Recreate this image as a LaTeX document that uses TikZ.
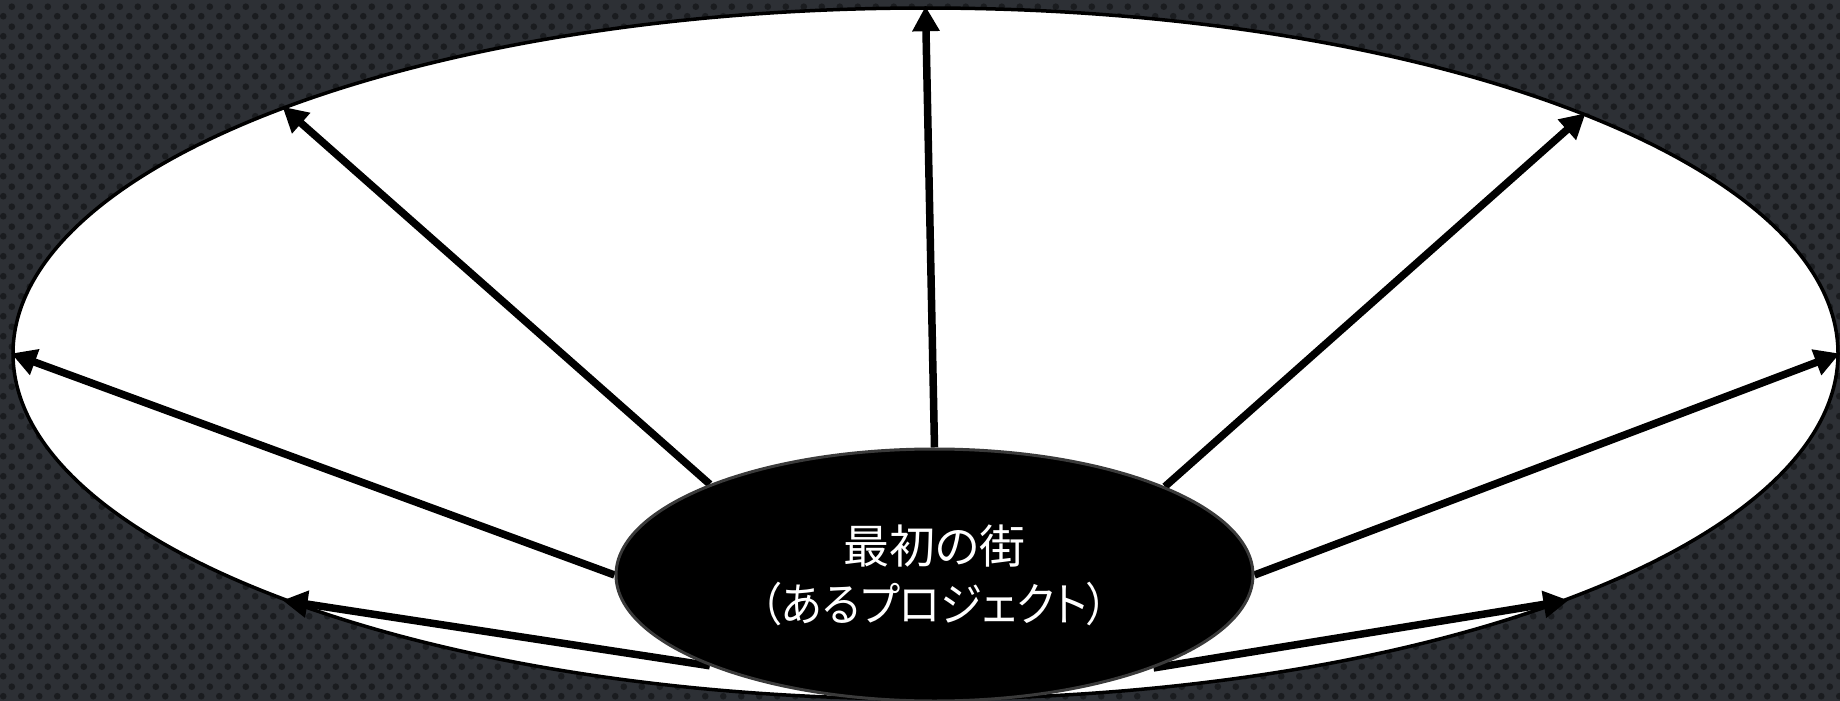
\documentclass[tikz,border=0pt]{standalone}
\usepackage{graphicx}
\usepackage{fontspec}
\newfontfamily\jpfont[CharacterWidth=AlternateProportional]{Noto Sans CJK JP}
\usetikzlibrary{arrows.meta,shapes.geometric,patterns}
\definecolor{bgcol}{HTML}{2D3035}
\definecolor{dotcol}{HTML}{1A1C1F}
\definecolor{hubline}{HTML}{3A3A3A}
\pgfdeclarelayer{front}
\pgfsetlayers{main,front}
\pgfdeclarepatternformonly{bgdots}{\pgfqpoint{0pt}{0pt}}{\pgfqpoint{18pt}{20pt}}{\pgfqpoint{18pt}{20pt}}{%
  \pgfpathcircle{\pgfqpoint{4.5pt}{5pt}}{3.5pt}%
  \pgfpathcircle{\pgfqpoint{13.5pt}{15pt}}{3.5pt}%
  \pgfusepath{fill}}
\tikzset{
  field/.style={ellipse, draw=black, line width=3.5pt, fill=white,
    minimum width=1825pt, minimum height=691pt, inner sep=0pt},
  hub/.style={ellipse, draw=hubline, line width=3pt, fill=black, text=white,
    minimum width=637pt, minimum height=252pt, inner sep=0pt, align=center,
    font=\jpfont\fontsize{46}{58}\selectfont},
  spoke/.style={line width=7.5pt, -{Triangle[length=25pt,width=26pt]}}
}
\begin{document}
\begin{tikzpicture}[x=1pt,y=-1pt]
\useasboundingbox (0,0) rectangle (1840,701);
\fill[bgcol] (0,0) rectangle (1840,701);
\fill[pattern=bgdots, pattern color=dotcol] (0,0) rectangle (1840,701);
\node[field] (field) at (925.5,353.5) {};
\begin{pgfonlayer}{front}
\node[hub] (town) at (934.5,575) {最初の街\\\scalebox{0.92}[1]{（あるプロジェクト）}};
\end{pgfonlayer}
\draw[spoke] (town.90) -- (field.90);
\draw[spoke] (town.158.3) -- (field.159.3);
\draw[spoke] (town.21.8) -- (field.20.6);
\draw[spoke] (town.180) -- (field.180);
\draw[spoke] (town.0) -- (field.0);
\draw[spoke] (town.202.5) -- (field.201.2);
\draw[spoke] (town.337.7) -- (field.339);
\end{tikzpicture}
\end{document}
